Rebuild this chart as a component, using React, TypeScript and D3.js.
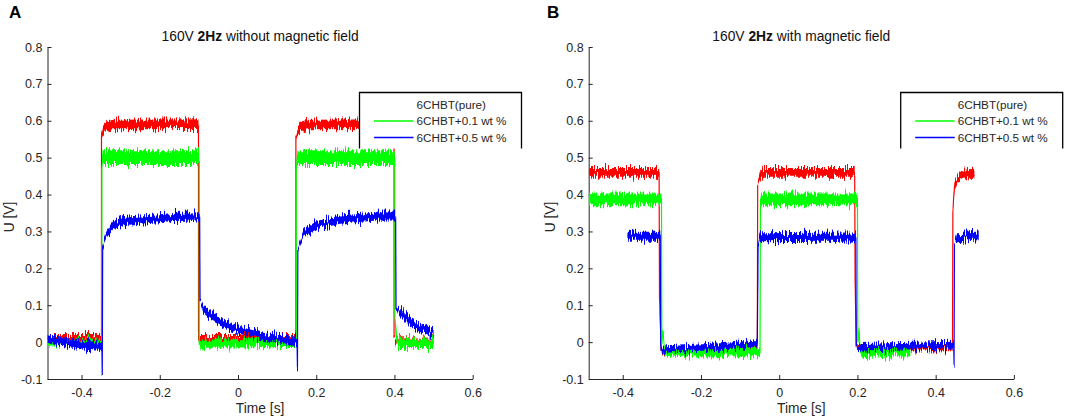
import { useEffect, useRef } from 'react';
import * as d3 from 'd3';

// [time s, U V, half height of the noise band V]
type Pt = [number, number, number];

const xTicks = [-0.4, -0.2, 0, 0.2, 0.4, 0.6];
const yTicks = [-0.1, 0, 0.1, 0.2, 0.3, 0.4, 0.5, 0.6, 0.7, 0.8];
const xDomain: [number, number] = [-0.487, 0.6];
const yDomain: [number, number] = [-0.1, 0.8];

const legendLabels = ['6CHBT(pure)', '6CHBT+0.1 wt %', '6CHBT+0.5 wt %'];
const seriesColors = ['#ff0000', '#00ff00', '#0000ff'];
const panelLetters = ['A', 'B'];
const panelTitles = [
  ['160V ', '2Hz', ' without magnetic field'],
  ['160V ', '2Hz', ' with magnetic field'],
];

// panel A : without magnetic field
const aPure: Pt[] = [
  [-0.487, 0.014, 0.008], [-0.349, 0.014, 0.008], [-0.349, 0.555, 0.004],
  [-0.345, 0.572, 0.011], [-0.335, 0.585, 0.013], [-0.32, 0.59, 0.013],
  [-0.101, 0.591, 0.013], [-0.101, 0.02, 0.0], [-0.098, 0.011, 0.008],
  [0.148, 0.011, 0.008], [0.148, 0.555, 0.004], [0.152, 0.572, 0.011],
  [0.162, 0.585, 0.013], [0.177, 0.59, 0.013], [0.399, 0.591, 0.013],
  [0.399, 0.01, 0.0], [0.402, 0.006, 0.007], [0.5, 0.005, 0.007],
];
const aWt01: Pt[] = [
  [-0.487, 0.0, 0.009], [-0.348, 0.0, 0.009], [-0.348, 0.47, 0.004],
  [-0.346, 0.5, 0.02], [-0.099, 0.5, 0.02], [-0.099, 0.0, 0.003],
  [-0.095, -0.008, 0.011], [-0.085, -0.004, 0.011], [0.149, -0.002, 0.011],
  [0.149, 0.47, 0.004], [0.152, 0.5, 0.02], [0.401, 0.5, 0.02],
  [0.401, 0.07, 0.003], [0.405, 0.012, 0.009], [0.41, -0.003, 0.013],
  [0.5, -0.003, 0.013],
];
const aWt05: Pt[] = [
  [-0.487, 0.012, 0.012], [-0.45, 0.002, 0.012], [-0.4, -0.008, 0.012],
  [-0.348, -0.012, 0.012], [-0.347, -0.089, 0.0], [-0.346, 0.258, 0.003],
  [-0.336, 0.295, 0.009], [-0.319, 0.317, 0.011], [-0.293, 0.328, 0.011],
  [-0.251, 0.332, 0.011], [-0.208, 0.335, 0.011], [-0.165, 0.339, 0.011],
  [-0.098, 0.341, 0.011], [-0.097, 0.114, 0.003], [-0.089, 0.091, 0.011],
  [-0.072, 0.073, 0.011], [-0.038, 0.051, 0.011], [0.005, 0.033, 0.011],
  [0.048, 0.022, 0.011], [0.09, 0.01, 0.011], [0.151, 0.0, 0.011],
  [0.152, -0.071, 0.0], [0.153, 0.25, 0.003], [0.167, 0.295, 0.009],
  [0.201, 0.317, 0.011], [0.261, 0.332, 0.011], [0.346, 0.34, 0.011],
  [0.403, 0.341, 0.011], [0.404, 0.096, 0.003], [0.414, 0.082, 0.011],
  [0.44, 0.055, 0.011], [0.474, 0.037, 0.011], [0.5, 0.024, 0.011],
];

// panel B : with magnetic field
const bPure: Pt[] = [
  [-0.487, 0.46, 0.012], [-0.307, 0.46, 0.012], [-0.306, 0.12, 0.0],
  [-0.302, -0.02, 0.004], [-0.295, -0.022, 0.009], [-0.2, -0.018, 0.009],
  [-0.056, -0.013, 0.009], [-0.055, 0.43, 0.003], [-0.05, 0.45, 0.011],
  [-0.04, 0.46, 0.012], [0.193, 0.46, 0.012], [0.194, 0.177, 0.0],
  [0.197, -0.01, 0.004], [0.2, -0.015, 0.009], [0.443, -0.012, 0.01],
  [0.444, 0.354, 0.002], [0.448, 0.425, 0.008], [0.456, 0.445, 0.011],
  [0.47, 0.455, 0.012], [0.499, 0.458, 0.012],
];
const bWt01: Pt[] = [
  [-0.487, 0.387, 0.016], [-0.301, 0.387, 0.016], [-0.3, 0.0, 0.0],
  [-0.297, 0.033, 0.002], [-0.293, -0.02, 0.009], [-0.29, -0.028, 0.012],
  [-0.049, -0.026, 0.012], [-0.048, 0.387, 0.004], [-0.046, 0.387, 0.016],
  [0.2, 0.387, 0.016], [0.201, 0.0, 0.0], [0.203, 0.042, 0.002],
  [0.207, -0.02, 0.009], [0.212, -0.028, 0.012], [0.335, -0.027, 0.012],
];
const bWt05: Pt[] = [
  [-0.388, 0.287, 0.012], [-0.304, 0.287, 0.012], [-0.303, 0.0, 0.0],
  [-0.302, -0.018, 0.005], [-0.29, -0.02, 0.009], [-0.15, -0.012, 0.009],
  [-0.056, -0.003, 0.009], [-0.054, 0.263, 0.003], [-0.05, 0.283, 0.012],
  [0.196, 0.285, 0.012], [0.197, -0.005, 0.0], [0.2, -0.02, 0.005],
  [0.21, -0.014, 0.009], [0.446, -0.008, 0.009], [0.447, -0.067, 0.0],
  [0.448, 0.268, 0.003], [0.455, 0.283, 0.012], [0.51, 0.288, 0.012],
];

const panelSeries = [
  [aPure, aWt01, aWt05],
  [bPure, bWt01, bWt05],
];

export default function App() {
  const ref = useRef<SVGSVGElement>(null);

  useEffect(() => {
    if (!ref.current) return;
    const svg = d3.select(ref.current);
    svg.selectAll('*').remove();

    const font = '"Liberation Sans", Arial, Helvetica, sans-serif';
    const ink = '#262626';
    const lefts = [47.5, 588.7];
    const top = 47;
    const w = 425.2;
    const h = 332;

    // ragged edges for the noisy traces
    const defs = svg.append('defs');
    const f = defs.append('filter').attr('id', 'noise')
      .attr('x', '-2%').attr('y', '-20%').attr('width', '104%').attr('height', '140%')
      .attr('color-interpolation-filters', 'sRGB');
    f.append('feTurbulence').attr('type', 'fractalNoise')
      .attr('baseFrequency', '0.9 0.04').attr('numOctaves', 2).attr('seed', 7).attr('result', 'n');
    f.append('feColorMatrix').attr('in', 'n').attr('type', 'matrix')
      .attr('values', '0 0 0 0 0.5  0 1 0 0 0  0 0 0 0 0  0 0 0 0 1').attr('result', 'm');
    f.append('feDisplacementMap').attr('in', 'SourceGraphic').attr('in2', 'm')
      .attr('scale', 15).attr('xChannelSelector', 'R').attr('yChannelSelector', 'G');

    panelSeries.forEach((series, p) => {
      const g = svg.append('g').attr('transform', `translate(${lefts[p]},${top})`);
      const x = d3.scaleLinear().domain(xDomain).range([0, w]);
      const y = d3.scaleLinear().domain(yDomain).range([h, 0]);

      defs.append('clipPath').attr('id', `clip${p}`)
        .append('rect').attr('x', 0).attr('y', -2).attr('width', w).attr('height', h + 1);

      // Eje X
      const gx = g.append('g')
        .attr('transform', `translate(0,${h})`)
        .call(d3.axisBottom(x).tickValues(xTicks).tickSizeInner(-4).tickSizeOuter(0).tickPadding(9)
          .tickFormat(d => String(+(+d).toFixed(1))));
      // Eje Y
      const gy = g.append('g')
        .call(d3.axisLeft(y).tickValues(yTicks).tickSizeInner(-4).tickSizeOuter(0).tickPadding(5)
          .tickFormat(d => String(+(+d).toFixed(1))));
      [gx, gy].forEach(ax => {
        ax.select('.domain').attr('stroke', ink);
        ax.selectAll('.tick line').attr('stroke', ink);
        ax.selectAll('.tick text').attr('fill', ink)
          .style('font-size', '12.5px').style('font-family', font);
      });

      const area = d3.area<Pt>()
        .x(d => x(d[0]))
        .y0(d => y(d[1] - d[2]))
        .y1(d => y(d[1] + d[2]));
      const line = d3.line<Pt>()
        .x(d => x(d[0]))
        .y(d => y(d[1]));

      const plot = g.append('g').attr('clip-path', `url(#clip${p})`);
      series.forEach((pts, i) => {
        const s = plot.append('g').attr('filter', 'url(#noise)');
        s.append('path').datum(pts).attr('d', area).attr('fill', seriesColors[i]);
        s.append('path').datum(pts).attr('d', line)
          .attr('fill', 'none').attr('stroke', seriesColors[i]).attr('stroke-width', 1.2);
      });

      // legend (pure trace has no sample line in the original)
      const lx = 312;
      const ly = 45.5;
      const lw = 162;
      const lh = 56;
      const leg = g.append('g').attr('transform', `translate(${lx},${ly})`);
      leg.append('rect').attr('width', lw).attr('height', lh).attr('fill', '#fff');
      leg.append('path')
        .attr('d', `M0,${lh}V0H${lw}V${lh}`)
        .attr('fill', 'none').attr('stroke', '#000').attr('stroke-width', 1.3);
      legendLabels.forEach((lab, i) => {
        const ry = 12 + i * 16.5;
        if (i > 0) {
          leg.append('line').attr('x1', 14.5).attr('x2', 54).attr('y1', ry).attr('y2', ry)
            .attr('stroke', seriesColors[i]).attr('stroke-width', 1.3);
        }
        leg.append('text').attr('x', 57).attr('y', ry).attr('dy', '0.35em')
          .attr('fill', ink).style('font-size', '11.7px').style('font-family', font)
          .text(lab);
      });

      // title
      const t = g.append('text').attr('x', w / 2).attr('y', -6)
        .attr('text-anchor', 'middle').attr('fill', '#111')
        .style('font-size', '13.8px').style('font-family', font);
      panelTitles[p].forEach((part, k) => {
        t.append('tspan').text(part).style('font-weight', k === 1 ? 'bold' : 'normal');
      });

      // axis labels
      g.append('text').attr('x', w / 2).attr('y', h + 34)
        .attr('text-anchor', 'middle').attr('fill', ink)
        .style('font-size', '13.8px').style('font-family', font)
        .text('Time [s]');
      g.append('text')
        .attr('transform', `translate(-34,${h / 2 + 4}) rotate(-90)`)
        .attr('text-anchor', 'middle').attr('fill', ink)
        .style('font-size', '13.8px').style('font-family', font)
        .text('U [V]');

      // panel letter
      svg.append('text').attr('x', p === 0 ? 9 : 547).attr('y', 17.5)
        .attr('fill', '#000').style('font-size', '17px').style('font-weight', 'bold')
        .style('font-family', font).text(panelLetters[p]);
    });
  }, []);

  return (
    <svg
      ref={ref}
      width={1065}
      height={418}
      style={{ position: 'absolute', left: 0, top: 0, background: '#fff' }}
    />
  );
}
